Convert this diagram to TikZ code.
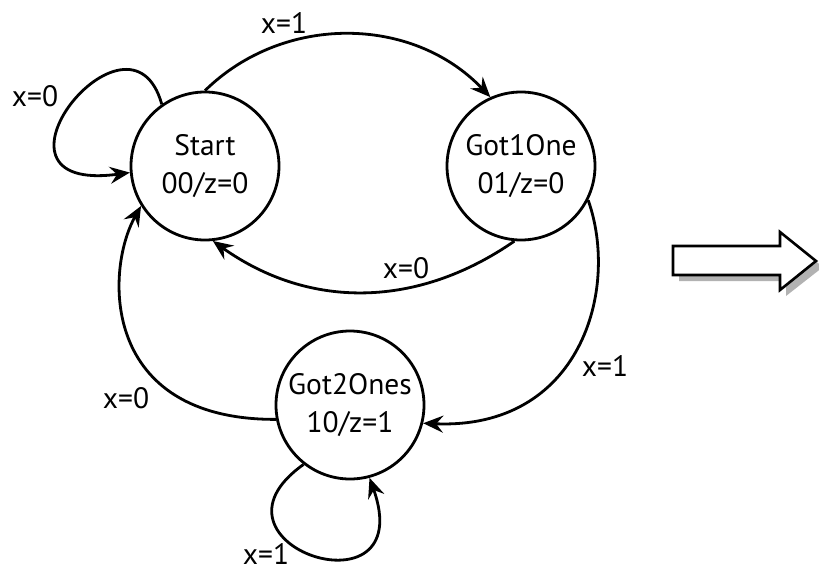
\documentclass[tikz,border=0pt]{standalone}
\usepackage{fontspec}
\setmainfont{PT Sans}
\usetikzlibrary{arrows.meta}

\begin{document}
\begin{tikzpicture}[x=1pt, y=-1pt,
		statenode/.style={draw, line width=2.8pt, circle, minimum size=148pt, inner sep=0pt, align=center, font=\fontsize{29.5}{38}\selectfont},
		trans/.style={line width=2.8pt, -{Stealth[length=20pt, width=17pt, inset=7pt]}},
		lbl/.style={inner sep=0pt, font=\fontsize{29.5}{34}\selectfont},
	]
		\useasboundingbox (0,0) rectangle (819,571);
		% states
		\node[statenode] (start) at (205,166) {Start\\00/z=0};
		\node[statenode] (one) at (521,166) {Got1One\\01/z=0};
		\node[statenode] (two) at (350,405) {Got2Ones\\10/z=1};
		% transitions
		\draw[trans] (start.90) .. controls (283,14) and (412,15) .. (one.114);
		\draw[trans] (one.265) .. controls (418,308) and (310,310) .. (start.276);
		\draw[trans] (one.-27) .. controls (620,290) and (580,430) .. (two.-14);
		\draw[trans] (two.191) .. controls (100,420) and (105,270) .. (start.212);
		\draw[trans] (start.125) .. controls (130,-10) and (-35,195) .. (start.185);
		\draw[trans] (two.232) .. controls (190,545) and (420,620) .. (two.285);
		% labels
		\node[lbl] (l1) at (284,23) {x=1};
		\node[lbl] (l2) at (35,96) {x=0};
		\node[lbl] (l3) at (406,268) {x=0};
		\node[lbl] (l4) at (605,366) {x=1};
		\node[lbl] (l5) at (126,398) {x=0};
		\node[lbl] (l6) at (266,554) {x=1};
		% block arrow with shadow
		\fill[gray!60] (679,252) -- (786,252) -- (786,238) -- (823,267) -- (786,296) -- (786,281) -- (679,281) -- cycle;
		\draw[line width=2.6pt, fill=white, line join=miter] (673,246) -- (780,246) -- (780,232) -- (816,261) -- (780,290) -- (780,275) -- (673,275) -- cycle;
	\end{tikzpicture}
\end{document}
